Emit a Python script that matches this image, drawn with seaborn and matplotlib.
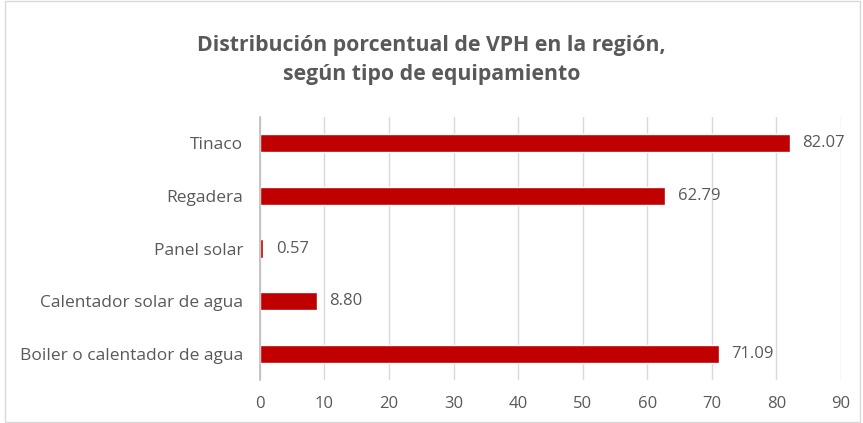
import matplotlib
matplotlib.use('Agg')
import matplotlib.pyplot as plt
import seaborn as sns
import pandas as pd

# Data (top to bottom)
categories = ['Tinaco', 'Regadera', 'Panel solar', 'Calentador solar de agua', 'Boiler o calentador de agua']
values = [82.07, 62.79, 0.57, 8.80, 71.09]
x_ticks = [0, 10, 20, 30, 40, 50, 60, 70, 80, 90]

df = pd.DataFrame({'equipamiento': categories, 'porcentaje': values})

sns.set_theme(style='white')
plt.rcParams['font.family'] = ['Open Sans', 'DejaVu Sans']

gray = '#595959'
fig = plt.figure(figsize=(8.63, 4.23), dpi=100)
ax = fig.add_axes([0.301, 0.101, 0.6735, 0.623])

sns.barplot(data=df, y='equipamiento', x='porcentaje', orient='h',
            color='#C00000', width=0.35, saturation=1, ax=ax)

# data labels
for i, v in enumerate(values):
    ax.annotate(f'{v:.2f}', xy=(v, i), xytext=(9, 0), textcoords='offset points',
                va='center', ha='left', fontsize=12, color=gray)

ax.set_xlim(0, 90)
ax.set_xticks(x_ticks)
ax.set_ylim(4.5, -0.5)
ax.set_xlabel('')
ax.set_ylabel('')
ax.grid(axis='x', color='#d9d9d9', linewidth=1)
ax.set_axisbelow(True)
for s in ['top', 'right', 'bottom']:
    ax.spines[s].set_visible(False)
ax.spines['left'].set_color('#bfbfbf')
ax.tick_params(axis='y', colors=gray, labelsize=12.5, length=0, pad=12)
ax.tick_params(axis='x', colors=gray, labelsize=12, length=0, pad=11)

fig.text(0.5, 0.857, 'Distribución porcentual de VPH en la región,\nsegún tipo de equipamiento',
         ha='center', va='center', fontsize=15.3, fontweight='bold', color=gray, linespacing=1.5)

# light frame around the chart area
fig.patches.append(plt.Rectangle((0.006, 0.003), 0.99, 0.994, transform=fig.transFigure,
                                 fill=False, edgecolor='#d9d9d9', linewidth=1))

fig.savefig('out.png', dpi=100)
